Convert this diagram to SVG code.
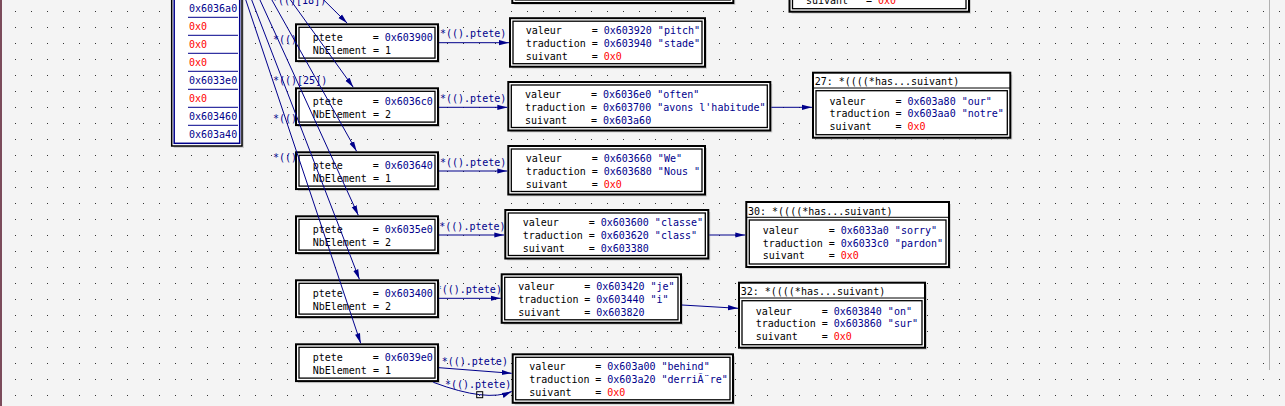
<svg xmlns="http://www.w3.org/2000/svg" width="1285" height="406" viewBox="0 0 1285 406">
<defs>
<style>
.t{font-family:"DejaVu Sans Mono","Liberation Mono",monospace;font-size:10px;fill:#000}
.v{fill:#00008b}
.r{fill:#ff0000}
.lb{font-family:"DejaVu Sans Mono","Liberation Mono",monospace;font-size:10px;fill:#00008b}
.o{fill:#fff;stroke:#000;stroke-width:2}
.i{fill:none;stroke:#000;stroke-width:1.3}
.sh{fill:#cfcfcf}
.sep{stroke:#000;stroke-width:1}
.e{fill:none;stroke:#00008b;stroke-width:1}
.ea{fill:none;stroke:#00008b;stroke-width:1;marker-end:url(#ah)}
.bl{stroke:#00008b;stroke-width:1}
</style>
<pattern id="dots" x="0" y="0" width="16" height="16" patternUnits="userSpaceOnUse"><rect x="15" y="11" width="1" height="1" fill="#333"/></pattern>
<marker id="ah" viewBox="0 0 10 6" refX="10" refY="3" markerWidth="10" markerHeight="6" markerUnits="userSpaceOnUse" orient="auto"><path d="M0,0.4 L10,3 L0,5.6 z" fill="#00008b"/></marker>
</defs>
<rect x="0" y="0" width="1285" height="406" fill="#f4f4f4"/>
<rect x="0" y="0" width="1285" height="406" fill="url(#dots)"/>
<rect x="0" y="0" width="2" height="406" fill="#7b4b5b"/>
<line x1="1269.5" y1="0" x2="1269.5" y2="370" stroke="#b0b0b0" stroke-width="1"/>

<g id="edge-labels">
<text class="lb" x="272" y="4">*(()[18])</text>
<text class="lb" x="273" y="43">*(()</text>
<text class="lb" x="273" y="84">*(()[25])</text>
<text class="lb" x="273" y="122">*(()</text>
<text class="lb" x="273" y="161">*(()</text>
<text class="lb" x="440" y="37.2">*(().ptete)</text>
<text class="lb" x="440" y="101.8">*(().ptete)</text>
<text class="lb" x="440" y="165.5">*(().ptete)</text>
<text class="lb" x="439.3" y="229.5">*(().ptete)</text>
<text class="lb" x="435.7" y="292.8">*(().ptete)</text>
<text class="lb" x="441.7" y="364.5">*(().ptete)</text>
<text class="lb" x="445" y="388">*(().ptete)</text>
</g>

<g id="array">
<rect class="sh" x="173.7" y="-300" width="70.3" height="448"/>
<rect x="171.7" y="-300" width="70.3" height="446" fill="#fff" stroke="#000" stroke-width="1.5"/>
<rect x="174.2" y="-300" width="65.5" height="443.3" fill="none" stroke="#00008b" stroke-width="1.5"/>
<line class="bl" x1="188" y1="17.3" x2="238" y2="17.3"/>
<line class="bl" x1="188" y1="35.3" x2="238" y2="35.3"/>
<line class="bl" x1="188" y1="53.3" x2="238" y2="53.3"/>
<line class="bl" x1="188" y1="71.3" x2="238" y2="71.3"/>
<line class="bl" x1="188" y1="89.3" x2="238" y2="89.3"/>
<line class="bl" x1="188" y1="107.3" x2="238" y2="107.3"/>
<line class="bl" x1="188" y1="125.3" x2="238" y2="125.3"/>
<text class="t v" x="189" y="12">0x6036a0</text>
<text class="t r" x="189" y="30">0x0</text>
<text class="t r" x="189" y="48">0x0</text>
<text class="t r" x="189" y="66">0x0</text>
<text class="t v" x="189" y="84">0x6033e0</text>
<text class="t r" x="189" y="102">0x0</text>
<text class="t v" x="189" y="120">0x603460</text>
<text class="t v" x="189" y="138">0x603a40</text>
</g>

<g id="top-box-1">
<rect class="sh" x="514.3" y="-43.5" width="221" height="48.5"/>
<rect class="o" x="512.3" y="-45.5" width="221" height="48.5"/>
<rect class="i" x="515.3" y="-42.5" width="215" height="42.5"/>
</g>
<g id="top-box-2">
<rect class="sh" x="791.5" y="-51.3" width="179.5" height="65"/>
<rect class="o" x="789.5" y="-53.3" width="179.5" height="65"/>
<rect class="i" x="792.5" y="-35.3" width="173.5" height="44"/>
<text class="t" y="4.1"><tspan x="806">suivant</tspan><tspan x="866">=</tspan><tspan x="878" class="r">0x0</tspan></text>
</g>

<g id="ptete-603900">
<rect class="sh" x="298" y="26.3" width="142" height="36.8"/>
<rect class="o" x="296" y="24.3" width="142" height="36.8"/>
<rect class="i" x="299" y="27.3" width="136" height="30.8"/>
<text class="t" y="40.8"><tspan x="312.7">ptete</tspan><tspan x="372.7">=</tspan><tspan x="384.7" class="v">0x603900</tspan></text>
<text class="t" x="312.7" y="53.6">NbElement = 1</text>
</g>
<g id="ptete-6036c0">
<rect class="sh" x="298" y="90.3" width="142" height="36.8"/>
<rect class="o" x="296" y="88.3" width="142" height="36.8"/>
<rect class="i" x="299" y="91.3" width="136" height="30.8"/>
<text class="t" y="104.8"><tspan x="312.7">ptete</tspan><tspan x="372.7">=</tspan><tspan x="384.7" class="v">0x6036c0</tspan></text>
<text class="t" x="312.7" y="117.6">NbElement = 2</text>
</g>
<g id="ptete-603640">
<rect class="sh" x="298" y="154.3" width="142" height="36.8"/>
<rect class="o" x="296" y="152.3" width="142" height="36.8"/>
<rect class="i" x="299" y="155.3" width="136" height="30.8"/>
<text class="t" y="168.8"><tspan x="312.7">ptete</tspan><tspan x="372.7">=</tspan><tspan x="384.7" class="v">0x603640</tspan></text>
<text class="t" x="312.7" y="181.6">NbElement = 1</text>
</g>
<g id="ptete-6035e0">
<rect class="sh" x="298" y="218.3" width="142" height="36.8"/>
<rect class="o" x="296" y="216.3" width="142" height="36.8"/>
<rect class="i" x="299" y="219.3" width="136" height="30.8"/>
<text class="t" y="232.8"><tspan x="312.7">ptete</tspan><tspan x="372.7">=</tspan><tspan x="384.7" class="v">0x6035e0</tspan></text>
<text class="t" x="312.7" y="245.6">NbElement = 2</text>
</g>
<g id="ptete-603400">
<rect class="sh" x="298" y="282.3" width="142" height="36.8"/>
<rect class="o" x="296" y="280.3" width="142" height="36.8"/>
<rect class="i" x="299" y="283.3" width="136" height="30.8"/>
<text class="t" y="296.8"><tspan x="312.7">ptete</tspan><tspan x="372.7">=</tspan><tspan x="384.7" class="v">0x603400</tspan></text>
<text class="t" x="312.7" y="309.6">NbElement = 2</text>
</g>
<g id="ptete-6039e0">
<rect class="sh" x="298" y="346.3" width="142" height="36.8"/>
<rect class="o" x="296" y="344.3" width="142" height="36.8"/>
<rect class="i" x="299" y="347.3" width="136" height="30.8"/>
<text class="t" y="360.8"><tspan x="312.7">ptete</tspan><tspan x="372.7">=</tspan><tspan x="384.7" class="v">0x6039e0</tspan></text>
<text class="t" x="312.7" y="373.6">NbElement = 1</text>
</g>

<g id="elem-pitch">
<rect class="sh" x="512" y="20.2" width="195" height="48.5"/>
<rect class="o" x="510" y="18.2" width="195" height="48.5"/>
<rect class="i" x="513" y="21.2" width="189" height="42.5"/>
<text class="t" y="33.9"><tspan x="525.7">valeur</tspan><tspan x="591.7">=</tspan><tspan x="603.7" class="v">0x603920 "pitch"</tspan></text>
<text class="t" y="46.8"><tspan x="525.7">traduction</tspan><tspan x="591.7">=</tspan><tspan x="603.7" class="v">0x603940 "stade"</tspan></text>
<text class="t" y="59.8"><tspan x="525.7">suivant</tspan><tspan x="591.7">=</tspan><tspan x="603.7" class="r">0x0</tspan></text>
</g>
<g id="elem-often">
<rect class="sh" x="510.3" y="84" width="262" height="48.5"/>
<rect class="o" x="508.3" y="82" width="262" height="48.5"/>
<rect class="i" x="511.3" y="85" width="256" height="42.5"/>
<text class="t" y="97.7"><tspan x="525">valeur</tspan><tspan x="591">=</tspan><tspan x="603" class="v">0x6036e0 "often"</tspan></text>
<text class="t" y="110.6"><tspan x="525">traduction</tspan><tspan x="591">=</tspan><tspan x="603" class="v">0x603700 "avons l'habitude"</tspan></text>
<text class="t" y="123.6"><tspan x="525">suivant</tspan><tspan x="591">=</tspan><tspan x="603" class="v">0x603a60</tspan></text>
</g>
<g id="elem-we">
<rect class="sh" x="510.3" y="148" width="196.7" height="48.5"/>
<rect class="o" x="508.3" y="146" width="196.7" height="48.5"/>
<rect class="i" x="511.3" y="149" width="190.7" height="42.5"/>
<text class="t" y="161.7"><tspan x="525.7">valeur</tspan><tspan x="591.7">=</tspan><tspan x="603.7" class="v">0x603660 "We"</tspan></text>
<text class="t" y="174.6"><tspan x="525.7">traduction</tspan><tspan x="591.7">=</tspan><tspan x="603.7" class="v">0x603680 "Nous "</tspan></text>
<text class="t" y="187.6"><tspan x="525.7">suivant</tspan><tspan x="591.7">=</tspan><tspan x="603.7" class="r">0x0</tspan></text>
</g>
<g id="elem-classe">
<rect class="sh" x="507.3" y="212" width="203" height="48.5"/>
<rect class="o" x="505.3" y="210" width="203" height="48.5"/>
<rect class="i" x="508.3" y="213" width="197" height="42.5"/>
<text class="t" y="225.7"><tspan x="522.7">valeur</tspan><tspan x="588.7">=</tspan><tspan x="600.7" class="v">0x603600 "classe"</tspan></text>
<text class="t" y="238.6"><tspan x="522.7">traduction</tspan><tspan x="588.7">=</tspan><tspan x="600.7" class="v">0x603620 "class"</tspan></text>
<text class="t" y="251.6"><tspan x="522.7">suivant</tspan><tspan x="588.7">=</tspan><tspan x="600.7" class="v">0x603380</tspan></text>
</g>
<g id="elem-je">
<rect class="sh" x="503.7" y="276.3" width="179.3" height="48.5"/>
<rect class="o" x="501.7" y="274.3" width="179.3" height="48.5"/>
<rect class="i" x="504.7" y="277.3" width="173.3" height="42.5"/>
<text class="t" y="290"><tspan x="518.3">valeur</tspan><tspan x="584.3">=</tspan><tspan x="596.3" class="v">0x603420 "je"</tspan></text>
<text class="t" y="302.9"><tspan x="518.3">traduction</tspan><tspan x="584.3">=</tspan><tspan x="596.3" class="v">0x603440 "i"</tspan></text>
<text class="t" y="315.9"><tspan x="518.3">suivant</tspan><tspan x="584.3">=</tspan><tspan x="596.3" class="v">0x603820</tspan></text>
</g>
<g id="elem-behind">
<rect class="sh" x="514.7" y="356.3" width="220.3" height="48.5"/>
<rect class="o" x="512.7" y="354.3" width="220.3" height="48.5"/>
<rect class="i" x="515.7" y="357.3" width="214.3" height="42.5"/>
<text class="t" y="370"><tspan x="529.3">valeur</tspan><tspan x="595.3">=</tspan><tspan x="607.3" class="v">0x603a00 "behind"</tspan></text>
<text class="t" y="382.9"><tspan x="529.3">traduction</tspan><tspan x="595.3">=</tspan><tspan x="607.3" class="v">0x603a20 "derriÃ¨re"</tspan></text>
<text class="t" y="395.9"><tspan x="529.3">suivant</tspan><tspan x="595.3">=</tspan><tspan x="607.3" class="r">0x0</tspan></text>
</g>

<g id="node-27">
<rect class="sh" x="815" y="74.7" width="197.3" height="65"/>
<rect class="o" x="813" y="72.7" width="197.3" height="65"/>
<text class="t" x="814.7" y="85.2">27: *((((*has...suivant)</text>
<line class="sep" x1="813" y1="88" x2="1010.3" y2="88"/>
<rect class="i" x="816" y="90.7" width="191.3" height="44"/>
<text class="t" y="104.5"><tspan x="829.5">valeur</tspan><tspan x="895.5">=</tspan><tspan x="907.5" class="v">0x603a80 "our"</tspan></text>
<text class="t" y="117.3"><tspan x="829.5">traduction</tspan><tspan x="895.5">=</tspan><tspan x="907.5" class="v">0x603aa0 "notre"</tspan></text>
<text class="t" y="130.1"><tspan x="829.5">suivant</tspan><tspan x="895.5">=</tspan><tspan x="907.5" class="r">0x0</tspan></text>
</g>
<g id="node-30">
<rect class="sh" x="748.3" y="204" width="202.7" height="65"/>
<rect class="o" x="746.3" y="202" width="202.7" height="65"/>
<text class="t" x="748" y="214.5">30: *((((*has...suivant)</text>
<line class="sep" x1="746.3" y1="217.3" x2="949" y2="217.3"/>
<rect class="i" x="749.3" y="220" width="196.7" height="44"/>
<text class="t" y="233.8"><tspan x="762.7">valeur</tspan><tspan x="828.7">=</tspan><tspan x="840.7" class="v">0x6033a0 "sorry"</tspan></text>
<text class="t" y="246.6"><tspan x="762.7">traduction</tspan><tspan x="828.7">=</tspan><tspan x="840.7" class="v">0x6033c0 "pardon"</tspan></text>
<text class="t" y="259.4"><tspan x="762.7">suivant</tspan><tspan x="828.7">=</tspan><tspan x="840.7" class="r">0x0</tspan></text>
</g>
<g id="node-32">
<rect class="sh" x="741" y="284.7" width="186" height="65"/>
<rect class="o" x="739" y="282.7" width="186" height="65"/>
<text class="t" x="740.7" y="295.2">32: *((((*has...suivant)</text>
<line class="sep" x1="739" y1="298" x2="925" y2="298"/>
<rect class="i" x="742" y="300.7" width="180" height="44"/>
<text class="t" y="314.5"><tspan x="755.7">valeur</tspan><tspan x="821.7">=</tspan><tspan x="833.7" class="v">0x603840 "on"</tspan></text>
<text class="t" y="327.3"><tspan x="755.7">traduction</tspan><tspan x="821.7">=</tspan><tspan x="833.7" class="v">0x603860 "sur"</tspan></text>
<text class="t" y="340.1"><tspan x="755.7">suivant</tspan><tspan x="821.7">=</tspan><tspan x="833.7" class="r">0x0</tspan></text>
</g>

<g id="connectors">
<path class="ea" d="M207,-116 L347.3,23.3"/>
<path class="ea" d="M207,-116 L353.3,87.3"/>
<path class="ea" d="M207,-116 L356.6,151.3"/>
<path class="ea" d="M207,-116 L358.3,215.3"/>
<path class="ea" d="M207,-116 L359.4,279.3"/>
<path class="ea" d="M207,-116 L360.7,343.3"/>
<path class="ea" d="M439,42.7 L509,42.7"/>
<path class="ea" d="M439,107.3 L507.3,107.3"/>
<path class="ea" d="M439,171 L507.3,171"/>
<path class="ea" d="M439,235 L504.3,235"/>
<path class="ea" d="M439,298.3 L500.7,298.3"/>
<path class="ea" d="M439,367.7 L511.7,373.3"/>
<path class="ea" d="M433.3,382.3 Q486.9,402.5 511.7,391.5"/>
<rect x="476.7" y="391.7" width="6" height="6" fill="none" stroke="#000" stroke-width="1"/>
<path class="ea" d="M771.3,107.3 L812,107.3"/>
<path class="ea" d="M709.3,235 L745.3,235"/>
<path class="ea" d="M682,305 L738,308.3"/>
</g>
</svg>
